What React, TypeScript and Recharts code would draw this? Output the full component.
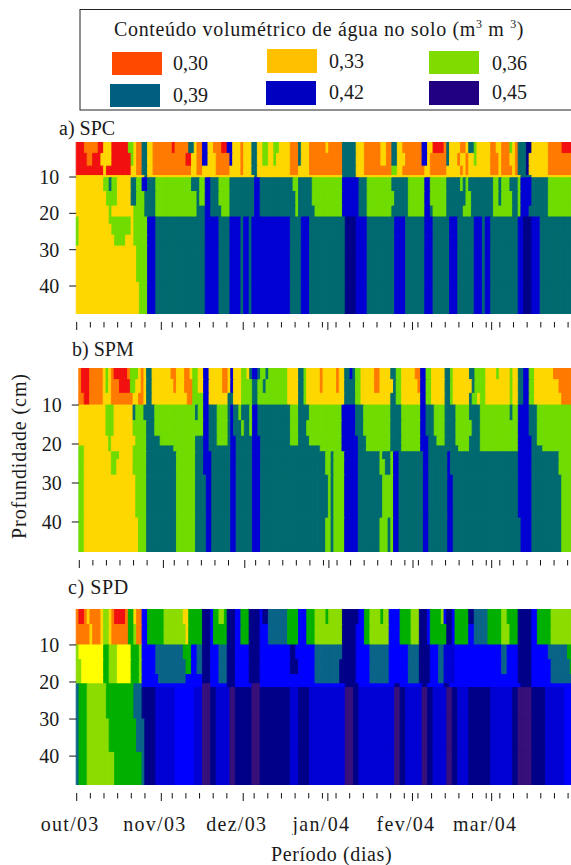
import React from 'react';
import { BarChart, Bar, Cell, XAxis, YAxis } from 'recharts';

type Run = [number, number];

const R = 0.27, O = 0.30, Y = 0.33, L = 0.34, H = 0.35, G = 0.36, E = 0.37, T = 0.39, U = 0.395, C = 0.41, B = 0.42, N = 0.45, P = 0.48;
const levelColors: Record<string, string> = {
  '0.27': '#F21010', '0.3': '#FF7A00', '0.33': '#FFD700', '0.34': '#FFFF00', '0.35': '#8CDC00', '0.36': '#70DC00',
  '0.37': '#00B000', '0.39': '#006A70', '0.395': '#0A6488', '0.41': '#0000FF', '0.42': '#0000D4', '0.45': '#000088', '0.48': '#38107A',
};

const legendLabels = ['0,30', '0,33', '0,36', '0,39', '0,42', '0,45'];
const legendColors = ['#FF4800', '#FFC000', '#80DC00', '#005F80', '#0000C0', '#200080'];
const monthLabels = ['out/03', 'nov/03', 'dez/03', 'jan/04', 'fev/04', 'mar/04'];
const monthStarts = [0, 31, 61, 92, 123, 152];
const minorTicks = [5, 10, 15, 20, 25, 35, 40, 45, 50, 55, 65, 70, 75, 80, 85, 90, 95, 100, 105, 110, 115, 120, 125, 130, 135, 140, 145, 150, 155, 160, 165, 170, 175, 180];
const depthTicks = [10, 20, 30, 40];
const dayCount = 182;

const spcDepths = [0, 3.5, 7, 9.6, 10.2, 14, 18, 21, 23, 26, 29, 39, 48];
const spcLower: Run[] = [[29,B],[47,T],[52,B],[56,T],[60,B],[61,T],[63,B],[64,T],[78,B],[82,T],[85,B],[98,T],[102,N],[106,B],[116,T],[120,B],[127,T],[130,B],[136,T],[139,B],[145,T],[148,B],[149,T],[151,B],[161,T],[163,B],[166,N],[169,B],[182,T]];
const spcRows: Run[][] = [
  [[3,R],[8,O],[10,R],[13,Y],[19,R],[21,G],[22,Y],[24,O],[26,T],[28,Y],[35,O],[36,R],[41,O],[43,T],[44,Y],[46,O],[48,B],[50,Y],[53,O],[55,R],[57,B],[60,Y],[61,O],[64,Y],[66,T],[68,Y],[70,G],[72,Y],[74,G],[78,Y],[81,O],[82,T],[85,Y],[91,O],[92,Y],[97,O],[102,T],[105,Y],[111,O],[113,Y],[115,O],[117,T],[119,Y],[126,O],[128,B],[130,Y],[134,R],[135,O],[136,T],[140,Y],[142,O],[143,Y],[145,T],[146,G],[151,Y],[153,O],[155,Y],[158,O],[159,G],[160,Y],[161,O],[164,T],[166,N],[172,Y],[177,O],[182,R]],
  [[4,R],[6,O],[9,R],[13,Y],[20,R],[21,G],[22,Y],[24,O],[26,T],[28,Y],[40,O],[42,R],[44,Y],[46,O],[48,B],[51,Y],[56,O],[57,B],[60,Y],[61,O],[64,Y],[66,T],[68,Y],[70,G],[72,Y],[73,G],[78,Y],[81,O],[82,T],[85,Y],[97,O],[102,T],[105,Y],[111,O],[113,Y],[115,O],[117,T],[120,Y],[126,O],[128,B],[129,Y],[135,O],[136,T],[139,Y],[140,O],[142,Y],[143,O],[145,Y],[146,G],[151,Y],[154,O],[155,Y],[158,O],[160,Y],[161,O],[164,T],[165,N],[172,Y],[182,O]],
  [[10,R],[11,Y],[20,R],[22,Y],[24,O],[26,T],[28,Y],[42,O],[44,Y],[46,O],[51,Y],[56,O],[60,Y],[61,O],[64,Y],[66,T],[72,Y],[78,Y],[81,O],[85,Y],[97,O],[102,T],[105,Y],[115,O],[117,G],[119,Y],[127,O],[129,Y],[135,O],[137,Y],[140,Y],[141,O],[142,Y],[143,O],[151,Y],[154,O],[155,Y],[159,O],[160,Y],[161,O],[164,T],[165,N],[172,Y],[182,O]],
  [[25,Y],[26,T],[65,Y],[66,T],[97,Y],[102,T],[162,Y],[166,T],[182,Y]],
  [[10,Y],[12,G],[13,T],[15,G],[20,Y],[22,T],[24,G],[26,B],[29,T],[42,G],[45,T],[47,G],[49,B],[52,T],[56,G],[65,T],[67,B],[79,T],[81,G],[86,T],[97,G],[103,B],[106,T],[115,G],[121,T],[127,G],[129,B],[135,G],[140,T],[141,G],[142,T],[143,G],[152,T],[154,G],[155,T],[158,G],[161,T],[162,G],[166,B],[172,T],[182,G]],
  [[11,Y],[15,G],[20,Y],[22,T],[25,G],[29,T],[44,G],[45,T],[47,G],[49,B],[52,T],[56,G],[65,T],[67,B],[80,T],[81,G],[86,T],[97,G],[103,B],[106,T],[116,G],[121,T],[127,G],[129,B],[135,G],[141,T],[142,T],[144,G],[152,T],[154,G],[155,T],[159,G],[161,T],[162,G],[166,B],[172,T],[182,G]],
  [[12,Y],[13,G],[21,Y],[25,G],[29,T],[44,G],[47,T],[49,B],[53,T],[56,G],[65,T],[67,B],[80,T],[81,G],[87,T],[97,G],[103,B],[106,T],[115,G],[121,T],[127,G],[129,B],[130,T],[135,G],[141,T],[144,G],[152,T],[159,G],[161,T],[162,G],[165,B],[172,T],[182,G]],
  [[1,G],[12,Y],[20,G],[21,Y],[26,G],...spcLower],
  [[1,G],[13,Y],[20,G],[21,Y],[26,G],...spcLower],
  [[1,G],[14,Y],[18,G],[21,Y],[26,G],...spcLower],
  [[22,Y],[26,G],...spcLower],
  [[23,Y],[26,G],...spcLower],
];

const spmDepths = [0, 3.5, 7, 10, 14, 18, 20.5, 22, 24, 28, 39, 48];
const spmRows: Run[][] = [
  [[1,O],[4,R],[9,O],[10,Y],[11,G],[12,Y],[13,O],[18,R],[19,O],[22,G],[23,Y],[24,O],[25,Y],[27,T],[34,Y],[36,O],[39,Y],[41,O],[42,Y],[44,G],[46,Y],[48,B],[53,Y],[55,O],[56,Y],[57,B],[60,Y],[62,G],[63,Y],[64,T],[66,B],[67,T],[69,G],[70,T],[77,G],[81,Y],[83,T],[84,G],[89,Y],[90,O],[95,Y],[96,O],[98,Y],[100,T],[101,B],[102,T],[104,G],[109,Y],[111,O],[115,Y],[117,T],[119,G],[124,Y],[126,O],[128,B],[130,G],[135,Y],[137,T],[138,G],[144,Y],[146,T],[150,G],[154,Y],[155,G],[159,Y],[160,G],[162,Y],[164,T],[166,B],[168,G],[175,Y],[182,O]],
  [[1,O],[4,R],[9,O],[10,Y],[11,G],[12,Y],[15,O],[19,R],[21,G],[23,Y],[24,O],[25,Y],[27,T],[35,Y],[36,O],[39,Y],[42,O],[44,G],[46,Y],[48,B],[53,Y],[55,O],[56,Y],[57,B],[60,Y],[64,G],[66,T],[68,G],[69,T],[77,G],[81,Y],[83,T],[84,G],[89,Y],[90,O],[95,Y],[96,O],[98,Y],[102,T],[104,G],[109,Y],[111,O],[116,Y],[117,T],[119,G],[125,Y],[126,O],[128,B],[130,G],[135,Y],[137,T],[138,G],[145,Y],[146,T],[150,G],[159,Y],[160,G],[162,Y],[164,T],[166,B],[168,G],[177,Y],[182,O]],
  [[2,O],[4,R],[9,O],[12,Y],[20,O],[22,Y],[24,O],[25,Y],[27,T],[36,Y],[40,Y],[42,O],[46,G],[48,B],[55,Y],[57,T],[60,Y],[64,G],[66,T],[77,G],[81,Y],[83,T],[84,G],[98,Y],[102,T],[104,G],[115,Y],[117,T],[119,G],[126,Y],[128,B],[130,G],[135,Y],[137,T],[138,G],[144,Y],[145,T],[147,G],[148,Y],[150,G],[159,Y],[160,G],[162,Y],[164,T],[166,B],[168,G],[178,Y],[182,O]],
  [[10,Y],[13,G],[20,Y],[21,T],[24,G],[28,T],[43,G],[44,T],[46,G],[48,B],[51,T],[55,G],[56,T],[57,B],[59,T],[60,G],[63,T],[64,G],[66,B],[78,T],[81,G],[85,T],[97,G],[102,B],[105,T],[115,G],[119,T],[126,G],[128,B],[131,T],[135,G],[139,T],[144,G],[148,T],[149,G],[159,G],[160,T],[162,G],[166,B],[169,T],[182,G]],
  [[10,Y],[13,G],[20,Y],[25,G],[28,T],[46,G],[48,B],[51,T],[55,G],[56,T],[57,B],[60,T],[61,G],[63,T],[64,G],[66,B],[78,T],[81,G],[84,T],[97,G],[102,B],[105,T],[115,G],[119,T],[126,G],[128,B],[131,T],[135,G],[139,T],[145,G],[148,T],[149,G],[162,G],[166,B],[169,T],[182,G]],
  [[11,Y],[12,G],[21,Y],[25,G],[30,T],[43,G],[46,T],[48,B],[51,T],[55,G],[56,T],[58,B],[64,T],[67,B],[78,T],[81,G],[85,T],[97,G],[103,B],[106,T],[115,G],[119,T],[126,G],[129,B],[132,T],[135,G],[139,T],[144,G],[148,T],[162,G],[167,B],[169,T],[182,G]],
  [[2,G],[11,Y],[12,G],[20,Y],[25,G],[35,T],[43,G],[46,T],[48,B],[51,T],[55,T],[56,T],[58,B],[64,T],[67,B],[89,T],[97,G],[103,B],[106,T],[115,G],[119,T],[126,G],[129,B],[135,T],[140,T],[144,G],[148,T],[162,G],[167,B],[171,T],[182,G]],
  [[2,G],[12,Y],[15,G],[20,Y],[25,G],[36,T],[43,G],[46,T],[49,B],[56,T],[58,B],[64,T],[67,B],[91,T],[93,G],[94,T],[98,G],[103,B],[111,T],[112,G],[115,T],[116,G],[118,B],[127,T],[129,B],[136,T],[137,B],[162,T],[167,B],[177,T],[182,G]],
  [[2,G],[12,Y],[14,G],[20,Y],[25,G],[36,T],[43,G],[46,T],[49,B],[56,T],[58,B],[64,T],[67,B],[91,T],[93,G],[94,T],[98,G],[103,B],[111,T],[113,G],[115,T],[116,G],[118,B],[127,T],[129,B],[136,T],[137,B],[162,T],[167,B],[177,T],[182,G]],
  [[2,G],[21,Y],[25,G],[36,T],[43,G],[47,T],[49,B],[56,T],[58,B],[64,T],[67,B],[92,T],[93,G],[94,T],[98,G],[103,B],[112,T],[116,G],[118,B],[127,T],[129,B],[136,T],[138,B],[162,T],[167,B],[178,T],[182,G]],
  [[2,G],[22,Y],[25,G],[36,T],[43,G],[47,T],[49,B],[56,T],[58,B],[64,T],[67,B],[91,T],[93,G],[94,T],[98,G],[103,B],[111,T],[114,G],[115,T],[116,G],[118,B],[127,T],[129,B],[136,T],[138,B],[163,T],[167,B],[178,T],[182,G]],
];

const spdDepths = [0, 4.5, 10, 14, 18, 20.5, 21.5, 30, 39, 48];
const spdLower: Run[] = [[29,N],[36,B],[43,C],[46,B],[49,P],[51,N],[56,B],[58,P],[64,N],[67,P],[78,N],[81,B],[85,N],[98,B],[101,P],[103,N],[116,B],[118,P],[120,N],[126,B],[128,P],[130,N],[135,B],[137,P],[139,N],[143,B],[151,N],[159,B],[161,N],[166,P],[171,N],[178,B],[182,C]];
const spdRows: Run[][] = [
  [[1,O],[3,R],[4,O],[5,Y],[9,O],[10,Y],[12,H],[13,Y],[14,O],[18,R],[19,O],[21,E],[22,Y],[24,O],[26,C],[32,E],[39,H],[41,Y],[46,E],[49,N],[50,C],[52,E],[54,H],[55,E],[58,N],[60,C],[63,E],[67,N],[68,C],[70,N],[77,U],[81,E],[84,C],[87,E],[91,H],[92,E],[97,H],[103,N],[105,C],[107,E],[111,H],[112,E],[114,H],[118,C],[122,E],[125,H],[128,N],[129,C],[133,E],[134,H],[135,C],[137,N],[138,C],[143,E],[145,N],[150,U],[155,E],[157,H],[161,E],[166,N],[168,C],[173,E],[182,H]],
  [[5,O],[6,Y],[9,O],[10,Y],[12,H],[13,Y],[19,O],[21,E],[22,H],[24,O],[26,C],[32,E],[40,H],[41,Y],[46,E],[49,N],[50,C],[55,E],[58,N],[60,C],[63,E],[67,N],[70,C],[77,U],[81,E],[84,C],[87,E],[97,H],[102,N],[105,C],[107,E],[114,H],[118,C],[122,E],[125,H],[128,N],[129,C],[135,E],[137,N],[138,C],[143,E],[145,C],[150,U],[155,E],[158,H],[161,E],[166,N],[168,C],[173,E],[182,H]],
  [[1,H],[10,L],[12,E],[15,H],[20,L],[23,E],[24,H],[29,C],[39,U],[42,E],[44,C],[46,U],[49,N],[52,C],[55,U],[58,N],[63,C],[67,N],[78,C],[80,N],[87,C],[97,U],[102,N],[107,C],[114,U],[121,C],[125,U],[129,N],[132,C],[134,U],[138,B],[155,C],[157,U],[161,C],[166,N],[172,C],[179,U],[182,E]],
  [[2,H],[10,L],[12,E],[15,H],[20,L],[23,E],[24,H],[29,C],[40,U],[42,E],[44,C],[46,U],[49,N],[52,C],[55,U],[58,N],[63,C],[67,N],[78,C],[81,N],[87,C],[96,U],[102,N],[107,C],[114,U],[121,C],[125,U],[129,N],[132,C],[134,U],[138,B],[155,C],[157,U],[161,C],[166,N],[173,C],[180,U],[182,E]],
  [[2,H],[10,L],[12,E],[15,H],[20,L],[23,E],[24,H],[30,C],[40,U],[46,C],[49,N],[52,C],[55,U],[58,N],[63,C],[67,N],[87,C],[96,U],[102,N],[107,C],[114,U],[121,C],[125,U],[129,N],[132,C],[134,U],[138,B],[161,C],[166,N],[173,C],[182,U]],
  [[1,U],[4,E],[11,H],[21,E],[24,U],[46,C],[49,P],[55,C],[58,N],[64,C],[67,P],[98,C],[103,N],[116,C],[118,N],[126,C],[128,N],[134,C],[136,N],[162,C],[166,N],[182,C]],
  [[1,U],[4,E],[11,H],[21,E],[24,U],...spdLower],
  [[1,U],[4,E],[12,H],[22,E],[25,U],...spdLower],
  [[1,U],[4,E],[14,H],[24,E],[25,U],...spdLower],
];

const valueAt = (runs: Run[], day: number): number => {
  for (const [end, v] of runs) if (day < end) return v;
  return runs[runs.length - 1][1];
};
const serif = '"Liberation Serif", serif';
const textColor = '#1a1a1a';
const days = Array.from({ length: dayCount }, (_, i) => i);

const buildTable = (depths: number[]) =>
  days.map((day) => {
    const row: Record<string, number> = { day };
    for (let i = 0; i < depths.length - 1; i++) row['l' + i] = depths[i + 1] - depths[i];
    return row;
  });

const Tick = ({ x, y, payload, labels, shift }: any) => {
  const d = payload.value as number;
  const mi = monthStarts.indexOf(d);
  const isMinor = minorTicks.includes(d);
  if (mi < 0 && !isMinor) return <g />;
  const tx = x + shift(d);
  return (
    <g>
      <line x1={tx} x2={tx} y1={y} y2={y + (mi >= 0 ? 8 : 5.5)} stroke="#111" strokeWidth={1} />
      {labels && mi >= 0 ? (
        <text x={tx - 6.5} y={y + 38} textAnchor="middle" fontFamily={serif} fontSize={20} letterSpacing={1.3} fill={textColor}>
          {monthLabels[mi]}
        </text>
      ) : null}
    </g>
  );
};

type PanelProps = { top: number; height: number; left: number; band: number; tickBand: number; depths: number[]; rows: Run[][]; domain: [number, number]; labels?: boolean };

const Panel = ({ top, height, left, band, tickBand, depths, rows, domain, labels }: PanelProps) => {
  const data = buildTable(depths);
  const plotW = band * dayCount;
  const extra = 50;
  // Tick marks follow the axis's own spacing, which is a little tighter than the drawn day columns.
  const shift = (d: number) => 0.5 - band / 2 + d * (tickBand - band);
  return (
    <div style={{ position: 'absolute', left: 0, top }}>
      <BarChart
        width={left + plotW}
        height={height + extra}
        data={data}
        margin={{ top: 0, right: 0, bottom: 0, left: 0 }}
        barCategoryGap={0}
        barGap={0}
      >
        <XAxis dataKey="day" type="category" interval={0} height={extra} axisLine={false} tickLine={false} tick={<Tick labels={labels} shift={shift} />} />
        <YAxis
          type="number"
          reversed
          allowDataOverflow
          domain={domain}
          ticks={depthTicks}
          width={left}
          axisLine={false}
          tickSize={7}
          tickMargin={10}
          tickLine={{ stroke: '#111', strokeWidth: 1 }}
          tick={{ fontFamily: serif, fontSize: 20, fill: textColor }}
        />
        {depths.slice(1).map((_, i) => (
          <Bar key={i} dataKey={'l' + i} stackId="a" isAnimationActive={false}>
            {days.map((d) => {
              const c = levelColors[String(valueAt(rows[i], d))];
              return <Cell key={d} fill={c} stroke={c} strokeWidth={0.9} />;
            })}
          </Bar>
        ))}
      </BarChart>
    </div>
  );
};

const panelText: React.CSSProperties = { position: 'absolute', fontFamily: serif, color: textColor, whiteSpace: 'nowrap', lineHeight: 1 };

const swatches = [
  { x: 112, y: 52, h: 23, tx: 173, ty: 70 },
  { x: 267, y: 49, h: 24, tx: 329, ty: 68 },
  { x: 429, y: 51, h: 23, tx: 492, ty: 70 },
  { x: 110, y: 84, h: 23, tx: 173, ty: 102 },
  { x: 266, y: 81, h: 24, tx: 329, ty: 99 },
  { x: 429, y: 81, h: 24, tx: 492, ty: 99 },
];

export default function App() {
  return (
    <div style={{ position: 'absolute', left: 0, top: 0, width: 571, height: 865, overflow: 'hidden', background: '#fff' }}>
      <svg width={571} height={120} style={{ position: 'absolute', left: 0, top: 0 }}>
        <rect x={80} y={9.5} width={500} height={100.5} fill="#fff" stroke="#222" strokeWidth={1} />
        <text x={114} y={36} fontFamily={serif} fontSize={20} fill={textColor} letterSpacing={0.65}>
          Conteúdo volumétrico de água no solo (m
          <tspan dy={-8} fontSize={12}>3</tspan>
          <tspan dy={8}> m </tspan>
          <tspan dy={-8} fontSize={12}>3</tspan>
          <tspan dy={8}>)</tspan>
        </text>
        {legendLabels.map((lab, i) => (
          <g key={lab}>
            <rect x={swatches[i].x} y={swatches[i].y} width={50} height={swatches[i].h} fill={legendColors[i]} />
            <text x={swatches[i].tx} y={swatches[i].ty} fontFamily={serif} fontSize={20} fill={textColor}>{lab}</text>
          </g>
        ))}
      </svg>
      <div style={{ ...panelText, left: 59, top: 118, fontSize: 20 }}>a) SPC</div>
      <div style={{ ...panelText, left: 72, top: 339, fontSize: 20 }}>b) SPM</div>
      <div style={{ ...panelText, left: 68, top: 577, fontSize: 20, letterSpacing: 0.6 }}>c) SPD</div>
      <div style={{ ...panelText, left: 19, top: 456, fontSize: 20, letterSpacing: 0.9, transform: 'translate(-50%,-50%) rotate(-90deg)' }}>Profundidade (cm)</div>
      <div style={{ ...panelText, left: 271, top: 844, fontSize: 20, letterSpacing: 0.6 }}>Período (dias)</div>
      <Panel top={142} height={172} left={76.2} band={2.745} tickBand={2.73} depths={spcDepths} rows={spcRows} domain={[0.36, 47.7]} />
      <Panel top={368} height={184} left={78.8} band={2.713} tickBand={2.713} depths={spmDepths} rows={spmRows} domain={[0.5, 47.7]} />
      <Panel top={609} height={176} left={76.2} band={2.745} tickBand={2.73} depths={spdDepths} rows={spdRows} domain={[0.3, 47.8]} labels />
    </div>
  );
}
